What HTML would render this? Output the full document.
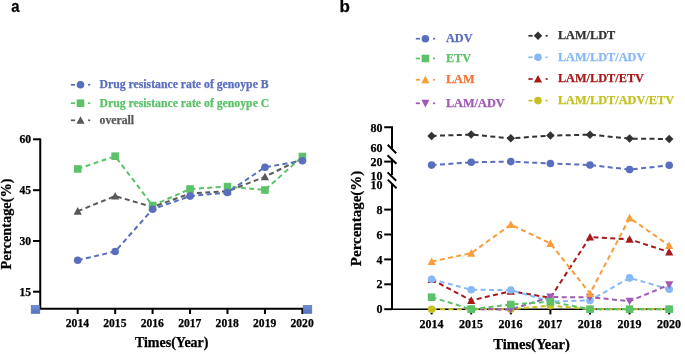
<!DOCTYPE html><html><head><meta charset="utf-8"><style>html,body{margin:0;padding:0;background:#fff;}svg{display:block;filter:blur(0.3px);}text{font-family:"Liberation Serif",serif;font-weight:bold;stroke-width:0.25px;}</style></head><body>
<svg width="685" height="354" viewBox="0 0 685 354">
<rect width="685" height="354" fill="#fff"/>
<text transform="translate(11.3,11.9) scale(0.87,1)" x="0" y="0" font-size="17" fill="#000" stroke="#000" style="font-family:'Liberation Sans',sans-serif">a</text>
<line x1="70.90" y1="84.80" x2="75.10" y2="84.80" stroke="#5a6ebe" stroke-width="1.7"/><circle cx="80.50" cy="84.80" r="3.80" fill="#5a6ebe"/><line x1="88.10" y1="84.80" x2="90.20" y2="84.80" stroke="#5a6ebe" stroke-width="1.7"/><text x="99.5" y="88.3" font-size="11.75" fill="#5a6ebe" stroke="#5a6ebe">Drug resistance rate of genoype B</text>
<line x1="70.90" y1="103.20" x2="75.10" y2="103.20" stroke="#5cc26a" stroke-width="1.7"/><rect x="76.70" y="99.40" width="7.60" height="7.60" fill="#5cc26a"/><line x1="88.10" y1="103.20" x2="90.20" y2="103.20" stroke="#5cc26a" stroke-width="1.7"/><text x="99.5" y="106.7" font-size="11.75" fill="#5cc26a" stroke="#5cc26a">Drug resistance rate of genoype C</text>
<line x1="70.90" y1="120.30" x2="75.10" y2="120.30" stroke="#595959" stroke-width="1.7"/><polygon points="80.50,116.20 84.60,123.79 76.40,123.79" fill="#595959"/><line x1="88.10" y1="120.30" x2="90.20" y2="120.30" stroke="#595959" stroke-width="1.7"/><text x="99.5" y="123.6" font-size="11.75" fill="#595959" stroke="#595959">overall</text>
<path d="M40.25,138.5 V308.8 H303" fill="none" stroke="#000" stroke-width="2"/>
<line x1="33" y1="139.3" x2="40.25" y2="139.3" stroke="#000" stroke-width="2"/>
<text x="31" y="143.2" font-size="11.6" text-anchor="end" fill="#000" stroke="#000">60</text>
<line x1="33" y1="190.2" x2="40.25" y2="190.2" stroke="#000" stroke-width="2"/>
<text x="31" y="194.1" font-size="11.6" text-anchor="end" fill="#000" stroke="#000">45</text>
<line x1="33" y1="241" x2="40.25" y2="241" stroke="#000" stroke-width="2"/>
<text x="31" y="244.9" font-size="11.6" text-anchor="end" fill="#000" stroke="#000">30</text>
<line x1="33" y1="291.7" x2="40.25" y2="291.7" stroke="#000" stroke-width="2"/>
<text x="31" y="295.6" font-size="11.6" text-anchor="end" fill="#000" stroke="#000">15</text>
<line x1="77.70" y1="308.8" x2="77.70" y2="314" stroke="#000" stroke-width="2"/>
<text x="77.40" y="327" font-size="11.6" text-anchor="middle" fill="#000" stroke="#000">2014</text>
<line x1="115.15" y1="308.8" x2="115.15" y2="314" stroke="#000" stroke-width="2"/>
<text x="114.85" y="327" font-size="11.6" text-anchor="middle" fill="#000" stroke="#000">2015</text>
<line x1="152.60" y1="308.8" x2="152.60" y2="314" stroke="#000" stroke-width="2"/>
<text x="152.30" y="327" font-size="11.6" text-anchor="middle" fill="#000" stroke="#000">2016</text>
<line x1="190.05" y1="308.8" x2="190.05" y2="314" stroke="#000" stroke-width="2"/>
<text x="189.75" y="327" font-size="11.6" text-anchor="middle" fill="#000" stroke="#000">2017</text>
<line x1="227.50" y1="308.8" x2="227.50" y2="314" stroke="#000" stroke-width="2"/>
<text x="227.20" y="327" font-size="11.6" text-anchor="middle" fill="#000" stroke="#000">2018</text>
<line x1="264.95" y1="308.8" x2="264.95" y2="314" stroke="#000" stroke-width="2"/>
<text x="264.65" y="327" font-size="11.6" text-anchor="middle" fill="#000" stroke="#000">2019</text>
<line x1="302.40" y1="308.8" x2="302.40" y2="314" stroke="#000" stroke-width="2"/>
<text x="302.10" y="327" font-size="11.6" text-anchor="middle" fill="#000" stroke="#000">2020</text>
<text x="171.7" y="347" font-size="14" text-anchor="middle" fill="#000" stroke="#000">Times(Year)</text>
<text transform="translate(11.2,224) rotate(-90)" x="0" y="0" font-size="14.3" text-anchor="middle" fill="#000" stroke="#000">Percentage(%)</text>
<defs><linearGradient id="sq" x1="0" y1="0" x2="0" y2="1"><stop offset="0" stop-color="#7393d6"/><stop offset="1" stop-color="#5070c0"/></linearGradient></defs>
<rect x="31.2" y="305.4" width="8.6" height="8" fill="url(#sq)" stroke="#4e68b4" stroke-width="0.6"/>
<rect x="303.2" y="305.4" width="8.6" height="8" fill="url(#sq)" stroke="#4e68b4" stroke-width="0.6"/>
<polyline points="77.70,211.20 115.15,196.10 152.60,207.00 190.05,193.50 227.50,191.30 264.95,176.80 302.40,158.30" fill="none" stroke="#595959" stroke-width="2" stroke-dasharray="5 3.4"/><polygon points="77.70,207.10 81.80,214.69 73.60,214.69" fill="#595959"/><polygon points="115.15,192.00 119.25,199.59 111.05,199.59" fill="#595959"/><polygon points="152.60,202.90 156.70,210.49 148.50,210.49" fill="#595959"/><polygon points="190.05,189.40 194.15,196.99 185.95,196.99" fill="#595959"/><polygon points="227.50,187.20 231.60,194.79 223.40,194.79" fill="#595959"/><polygon points="264.95,172.70 269.05,180.29 260.85,180.29" fill="#595959"/><polygon points="302.40,154.20 306.50,161.79 298.30,161.79" fill="#595959"/>
<polyline points="77.70,168.90 115.15,156.20 152.60,205.50 190.05,189.00 227.50,186.60 264.95,190.00 302.40,156.50" fill="none" stroke="#5cc26a" stroke-width="2" stroke-dasharray="5 3.4"/><rect x="73.90" y="165.10" width="7.60" height="7.60" fill="#5cc26a"/><rect x="111.35" y="152.40" width="7.60" height="7.60" fill="#5cc26a"/><rect x="148.80" y="201.70" width="7.60" height="7.60" fill="#5cc26a"/><rect x="186.25" y="185.20" width="7.60" height="7.60" fill="#5cc26a"/><rect x="223.70" y="182.80" width="7.60" height="7.60" fill="#5cc26a"/><rect x="261.15" y="186.20" width="7.60" height="7.60" fill="#5cc26a"/><rect x="298.60" y="152.70" width="7.60" height="7.60" fill="#5cc26a"/>
<polyline points="77.70,260.20 115.15,251.50 152.60,209.30 190.05,196.10 227.50,192.50 264.95,167.20 302.40,160.80" fill="none" stroke="#5a6ebe" stroke-width="2" stroke-dasharray="5 3.4"/><circle cx="77.70" cy="260.20" r="3.80" fill="#5a6ebe"/><circle cx="115.15" cy="251.50" r="3.80" fill="#5a6ebe"/><circle cx="152.60" cy="209.30" r="3.80" fill="#5a6ebe"/><circle cx="190.05" cy="196.10" r="3.80" fill="#5a6ebe"/><circle cx="227.50" cy="192.50" r="3.80" fill="#5a6ebe"/><circle cx="264.95" cy="167.20" r="3.80" fill="#5a6ebe"/><circle cx="302.40" cy="160.80" r="3.80" fill="#5a6ebe"/>
<text x="339.5" y="12.3" font-size="17" fill="#000" stroke="#000" style="font-family:'Liberation Sans',sans-serif">b</text>
<line x1="415.80" y1="38.70" x2="420.00" y2="38.70" stroke="#5a6ebe" stroke-width="1.7"/><circle cx="425.40" cy="38.70" r="3.80" fill="#5a6ebe"/><line x1="433.00" y1="38.70" x2="435.10" y2="38.70" stroke="#5a6ebe" stroke-width="1.7"/><text x="445.9" y="41.9" font-size="12.3" fill="#5a6ebe" stroke="#5a6ebe">ADV</text>
<line x1="415.80" y1="58.50" x2="420.00" y2="58.50" stroke="#5cc26a" stroke-width="1.7"/><rect x="421.60" y="54.70" width="7.60" height="7.60" fill="#5cc26a"/><line x1="433.00" y1="58.50" x2="435.10" y2="58.50" stroke="#5cc26a" stroke-width="1.7"/><text x="445.9" y="62.2" font-size="12.3" fill="#5cc26a" stroke="#5cc26a">ETV</text>
<line x1="415.80" y1="79.80" x2="420.00" y2="79.80" stroke="#fa9b3c" stroke-width="1.7"/><polygon points="425.40,75.70 429.50,83.29 421.30,83.29" fill="#fa9b3c"/><line x1="433.00" y1="79.80" x2="435.10" y2="79.80" stroke="#fa9b3c" stroke-width="1.7"/><text x="445.9" y="83.4" font-size="12.3" fill="#f57538" stroke="#f57538">LAM</text>
<line x1="415.80" y1="103.30" x2="420.00" y2="103.30" stroke="#a05ab4" stroke-width="1.7"/><polygon points="421.30,99.81 429.50,99.81 425.40,107.40" fill="#a05ab4"/><line x1="433.00" y1="103.30" x2="435.10" y2="103.30" stroke="#a05ab4" stroke-width="1.7"/><text x="445.9" y="106.9" font-size="12.3" fill="#a05ab4" stroke="#a05ab4">LAM/ADV</text>
<line x1="528.40" y1="35.80" x2="532.60" y2="35.80" stroke="#333333" stroke-width="1.7"/><polygon points="538.00,31.54 542.26,35.80 538.00,40.06 533.74,35.80" fill="#333333"/><line x1="545.60" y1="35.80" x2="547.70" y2="35.80" stroke="#333333" stroke-width="1.7"/><text x="557.9" y="39.3" font-size="12.3" fill="#333333" stroke="#333333">LAM/LDT</text>
<line x1="528.40" y1="57.30" x2="532.60" y2="57.30" stroke="#88b8f5" stroke-width="1.7"/><circle cx="538.00" cy="57.30" r="3.80" fill="#88b8f5"/><line x1="545.60" y1="57.30" x2="547.70" y2="57.30" stroke="#88b8f5" stroke-width="1.7"/><text x="557.9" y="60.9" font-size="12.3" fill="#88b8f5" stroke="#88b8f5">LAM/LDT/ADV</text>
<line x1="528.40" y1="79.00" x2="532.60" y2="79.00" stroke="#a8191b" stroke-width="1.7"/><polygon points="538.00,74.90 542.10,82.49 533.90,82.49" fill="#a8191b"/><line x1="545.60" y1="79.00" x2="547.70" y2="79.00" stroke="#a8191b" stroke-width="1.7"/><text x="557.9" y="82.4" font-size="12.3" fill="#a8191b" stroke="#a8191b">LAM/LDT/ETV</text>
<line x1="528.40" y1="100.60" x2="532.60" y2="100.60" stroke="#c4c121" stroke-width="1.7"/><circle cx="538.00" cy="100.60" r="3.80" fill="#c4c121"/><line x1="545.60" y1="100.60" x2="547.70" y2="100.60" stroke="#c4c121" stroke-width="1.7"/><text x="557.9" y="104.0" font-size="12.3" fill="#c4c121" stroke="#c4c121">LAM/LDT/ADV/ETV</text>
<path d="M384.2,127.2 H392 V148.5" fill="none" stroke="#000" stroke-width="2"/>
<path d="M392,158.8 V175" fill="none" stroke="#000" stroke-width="2"/>
<path d="M392,184.3 V309.5" fill="none" stroke="#000" stroke-width="2"/>
<path d="M391,309.2 H669.5" fill="none" stroke="#000" stroke-width="1.5"/>
<line x1="387.7" y1="144.7" x2="396.2" y2="153.2" stroke="#000" stroke-width="2"/>
<line x1="387.5" y1="155.3" x2="396.4" y2="163.8" stroke="#000" stroke-width="2"/>
<line x1="387.6" y1="172.4" x2="396.2" y2="180.8" stroke="#000" stroke-width="2"/>
<line x1="387.8" y1="179.6" x2="396.5" y2="188.2" stroke="#000" stroke-width="2"/>
<line x1="384.2" y1="161.6" x2="392" y2="161.6" stroke="#000" stroke-width="2"/>
<line x1="384.2" y1="209.60" x2="392" y2="209.60" stroke="#000" stroke-width="2"/>
<text x="382.5" y="213.70" font-size="12" text-anchor="end" fill="#000" stroke="#000">8</text>
<line x1="384.2" y1="234.50" x2="392" y2="234.50" stroke="#000" stroke-width="2"/>
<text x="382.5" y="238.60" font-size="12" text-anchor="end" fill="#000" stroke="#000">6</text>
<line x1="384.2" y1="259.40" x2="392" y2="259.40" stroke="#000" stroke-width="2"/>
<text x="382.5" y="263.50" font-size="12" text-anchor="end" fill="#000" stroke="#000">4</text>
<line x1="384.2" y1="284.30" x2="392" y2="284.30" stroke="#000" stroke-width="2"/>
<text x="382.5" y="288.40" font-size="12" text-anchor="end" fill="#000" stroke="#000">2</text>
<line x1="384.2" y1="309.20" x2="392" y2="309.20" stroke="#000" stroke-width="2"/>
<text x="382.5" y="313.30" font-size="12" text-anchor="end" fill="#000" stroke="#000">0</text>
<text x="382.5" y="131.70" font-size="12" text-anchor="end" fill="#000" stroke="#000">80</text>
<text x="382.5" y="152.40" font-size="12" text-anchor="end" fill="#000" stroke="#000">60</text>
<text x="382.5" y="166.10" font-size="12" text-anchor="end" fill="#000" stroke="#000">20</text>
<text x="382.5" y="179.90" font-size="12" text-anchor="end" fill="#000" stroke="#000">10</text>
<text x="382.5" y="188.90" font-size="12" text-anchor="end" fill="#000" stroke="#000">10</text>
<line x1="431.60" y1="309.2" x2="431.60" y2="314.4" stroke="#000" stroke-width="2"/>
<text x="431.40" y="327.9" font-size="12" text-anchor="middle" fill="#000" stroke="#000">2014</text>
<line x1="471.20" y1="309.2" x2="471.20" y2="314.4" stroke="#000" stroke-width="2"/>
<text x="471.00" y="327.9" font-size="12" text-anchor="middle" fill="#000" stroke="#000">2015</text>
<line x1="510.80" y1="309.2" x2="510.80" y2="314.4" stroke="#000" stroke-width="2"/>
<text x="510.60" y="327.9" font-size="12" text-anchor="middle" fill="#000" stroke="#000">2016</text>
<line x1="550.40" y1="309.2" x2="550.40" y2="314.4" stroke="#000" stroke-width="2"/>
<text x="550.20" y="327.9" font-size="12" text-anchor="middle" fill="#000" stroke="#000">2017</text>
<line x1="590.00" y1="309.2" x2="590.00" y2="314.4" stroke="#000" stroke-width="2"/>
<text x="589.80" y="327.9" font-size="12" text-anchor="middle" fill="#000" stroke="#000">2018</text>
<line x1="629.60" y1="309.2" x2="629.60" y2="314.4" stroke="#000" stroke-width="2"/>
<text x="629.40" y="327.9" font-size="12" text-anchor="middle" fill="#000" stroke="#000">2019</text>
<line x1="669.20" y1="309.2" x2="669.20" y2="314.4" stroke="#000" stroke-width="2"/>
<text x="669.00" y="327.9" font-size="12" text-anchor="middle" fill="#000" stroke="#000">2020</text>
<text x="531.6" y="349.1" font-size="14.6" text-anchor="middle" fill="#000" stroke="#000">Times(Year)</text>
<text transform="translate(361.2,218.4) rotate(-90)" x="0" y="0" font-size="15" text-anchor="middle" fill="#000" stroke="#000">Percentage(%)</text>
<polyline points="431.60,309.20 471.20,309.20 510.80,309.20 550.40,305.60 590.00,309.20 629.60,309.20 669.20,309.20" fill="none" stroke="#c4c121" stroke-width="2" stroke-dasharray="5 3.4"/><circle cx="431.60" cy="309.20" r="3.80" fill="#c4c121"/><circle cx="471.20" cy="309.20" r="3.80" fill="#c4c121"/><circle cx="510.80" cy="309.20" r="3.80" fill="#c4c121"/><circle cx="550.40" cy="305.60" r="3.80" fill="#c4c121"/><circle cx="590.00" cy="309.20" r="3.80" fill="#c4c121"/><circle cx="629.60" cy="309.20" r="3.80" fill="#c4c121"/><circle cx="669.20" cy="309.20" r="3.80" fill="#c4c121"/>
<polyline points="431.60,279.50 471.20,300.40 510.80,291.20 550.40,297.80 590.00,237.00 629.60,239.30 669.20,252.10" fill="none" stroke="#a8191b" stroke-width="2" stroke-dasharray="5 3.4"/><polygon points="431.60,275.40 435.70,282.99 427.50,282.99" fill="#a8191b"/><polygon points="471.20,296.30 475.30,303.89 467.10,303.89" fill="#a8191b"/><polygon points="510.80,287.10 514.90,294.69 506.70,294.69" fill="#a8191b"/><polygon points="550.40,293.70 554.50,301.29 546.30,301.29" fill="#a8191b"/><polygon points="590.00,232.90 594.10,240.49 585.90,240.49" fill="#a8191b"/><polygon points="629.60,235.20 633.70,242.79 625.50,242.79" fill="#a8191b"/><polygon points="669.20,248.00 673.30,255.59 665.10,255.59" fill="#a8191b"/>
<polyline points="431.60,279.20 471.20,289.80 510.80,290.00 550.40,301.50 590.00,300.40 629.60,277.90 669.20,289.20" fill="none" stroke="#88b8f5" stroke-width="2" stroke-dasharray="5 3.4"/><circle cx="431.60" cy="279.20" r="3.80" fill="#88b8f5"/><circle cx="471.20" cy="289.80" r="3.80" fill="#88b8f5"/><circle cx="510.80" cy="290.00" r="3.80" fill="#88b8f5"/><circle cx="550.40" cy="301.50" r="3.80" fill="#88b8f5"/><circle cx="590.00" cy="300.40" r="3.80" fill="#88b8f5"/><circle cx="629.60" cy="277.90" r="3.80" fill="#88b8f5"/><circle cx="669.20" cy="289.20" r="3.80" fill="#88b8f5"/>
<polyline points="431.60,135.90 471.20,134.60 510.80,138.30 550.40,135.60 590.00,134.70 629.60,138.60 669.20,139.00" fill="none" stroke="#333333" stroke-width="2" stroke-dasharray="5 3.4"/><polygon points="431.60,131.64 435.86,135.90 431.60,140.16 427.34,135.90" fill="#333333"/><polygon points="471.20,130.34 475.46,134.60 471.20,138.86 466.94,134.60" fill="#333333"/><polygon points="510.80,134.04 515.06,138.30 510.80,142.56 506.54,138.30" fill="#333333"/><polygon points="550.40,131.34 554.66,135.60 550.40,139.86 546.14,135.60" fill="#333333"/><polygon points="590.00,130.44 594.26,134.70 590.00,138.96 585.74,134.70" fill="#333333"/><polygon points="629.60,134.34 633.86,138.60 629.60,142.86 625.34,138.60" fill="#333333"/><polygon points="669.20,134.74 673.46,139.00 669.20,143.26 664.94,139.00" fill="#333333"/>
<polyline points="471.20,309.20 510.80,309.50 550.40,297.10 590.00,297.20 629.60,301.20 669.20,284.80" fill="none" stroke="#a05ab4" stroke-width="2" stroke-dasharray="5 3.4"/><polygon points="467.10,305.71 475.30,305.71 471.20,313.30" fill="#a05ab4"/><polygon points="506.70,306.01 514.90,306.01 510.80,313.60" fill="#a05ab4"/><polygon points="546.30,293.61 554.50,293.61 550.40,301.20" fill="#a05ab4"/><polygon points="585.90,293.71 594.10,293.71 590.00,301.30" fill="#a05ab4"/><polygon points="625.50,297.71 633.70,297.71 629.60,305.30" fill="#a05ab4"/><polygon points="665.10,281.31 673.30,281.31 669.20,288.90" fill="#a05ab4"/>
<polyline points="431.60,261.60 471.20,253.20 510.80,224.60 550.40,243.40 590.00,293.50 629.60,217.90 669.20,245.50" fill="none" stroke="#fa9b3c" stroke-width="2" stroke-dasharray="5 3.4"/><polygon points="431.60,257.50 435.70,265.09 427.50,265.09" fill="#fa9b3c"/><polygon points="471.20,249.10 475.30,256.69 467.10,256.69" fill="#fa9b3c"/><polygon points="510.80,220.50 514.90,228.09 506.70,228.09" fill="#fa9b3c"/><polygon points="550.40,239.30 554.50,246.89 546.30,246.89" fill="#fa9b3c"/><polygon points="590.00,289.40 594.10,296.99 585.90,296.99" fill="#fa9b3c"/><polygon points="629.60,213.80 633.70,221.39 625.50,221.39" fill="#fa9b3c"/><polygon points="669.20,241.40 673.30,248.99 665.10,248.99" fill="#fa9b3c"/>
<polyline points="431.60,297.20 471.20,309.20 510.80,304.50 550.40,301.70 590.00,309.20 629.60,309.20 669.20,309.20" fill="none" stroke="#5cc26a" stroke-width="2" stroke-dasharray="5 3.4"/><rect x="427.80" y="293.40" width="7.60" height="7.60" fill="#5cc26a"/><rect x="467.40" y="305.40" width="7.60" height="7.60" fill="#5cc26a"/><rect x="507.00" y="300.70" width="7.60" height="7.60" fill="#5cc26a"/><rect x="546.60" y="297.90" width="7.60" height="7.60" fill="#5cc26a"/><rect x="586.20" y="305.40" width="7.60" height="7.60" fill="#5cc26a"/><rect x="625.80" y="305.40" width="7.60" height="7.60" fill="#5cc26a"/><rect x="665.40" y="305.40" width="7.60" height="7.60" fill="#5cc26a"/>
<polyline points="431.60,165.10 471.20,162.30 510.80,161.60 550.40,163.50 590.00,165.00 629.60,169.60 669.20,165.30" fill="none" stroke="#5a6ebe" stroke-width="2" stroke-dasharray="5 3.4"/><circle cx="431.60" cy="165.10" r="3.80" fill="#5a6ebe"/><circle cx="471.20" cy="162.30" r="3.80" fill="#5a6ebe"/><circle cx="510.80" cy="161.60" r="3.80" fill="#5a6ebe"/><circle cx="550.40" cy="163.50" r="3.80" fill="#5a6ebe"/><circle cx="590.00" cy="165.00" r="3.80" fill="#5a6ebe"/><circle cx="629.60" cy="169.60" r="3.80" fill="#5a6ebe"/><circle cx="669.20" cy="165.30" r="3.80" fill="#5a6ebe"/>
</svg></body></html>
